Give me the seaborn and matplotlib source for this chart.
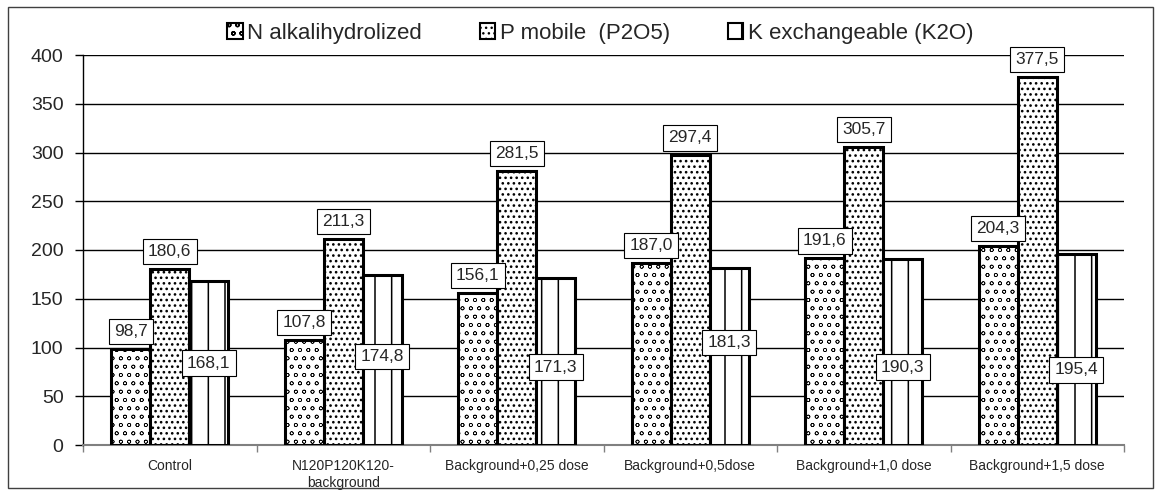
import numpy as np
import pandas as pd
import matplotlib
matplotlib.use("Agg")
import matplotlib.pyplot as plt
import matplotlib.patches as mpatches
import seaborn as sns

# ---- data ----
categories = ["Control", "N120P120K120-\nbackground", "Background+0,25 dose",
              "Background+0,5dose", "Background+1,0 dose", "Background+1,5 dose"]
series_names = ["N alkalihydrolized", "P mobile  (P2O5)", "K exchangeable (K2O)"]
n_values = [98.7, 107.8, 156.1, 187.0, 191.6, 204.3]
p_values = [180.6, 211.3, 281.5, 297.4, 305.7, 377.5]
k_values = [168.1, 174.8, 171.3, 181.3, 190.3, 195.4]
y_ticks = [0, 50, 100, 150, 200, 250, 300, 350, 400]

# layout: vertical centre of the K value labels (placed inside the bars)
k_label_y = [84, 91, 80, 105, 80, 77]

sns.set_theme(style="white")
plt.rcParams['font.family'] = ['Liberation Sans', 'DejaVu Sans']
plt.rcParams['hatch.linewidth'] = 1.0

df = pd.DataFrame({
    "category": np.repeat(categories, 3),
    "series": series_names * len(categories),
    "value": [v for trio in zip(n_values, p_values, k_values) for v in trio],
})

fig = plt.figure(figsize=(11.61, 4.95), dpi=100)
ax = fig.add_axes([83/1161, 1-445/495, (1124-83)/1161, (445-55)/495])

sns.barplot(data=df, x="category", y="value", hue="series", order=categories,
            hue_order=series_names, palette=["white"]*3, width=0.675, gap=0,
            edgecolor="black", linewidth=2.2, legend=False, ax=ax, zorder=3)

hatches = ["oo", "...", "|"]
hatch_lw = [0.45, 1.1, 1.1]
for cont, h, hl in zip(ax.containers, hatches, hatch_lw):
    for bar in cont:
        bar.set_hatch(h)
        bar.set_facecolor("white")
        bar.set_edgecolor("black")
        try:
            bar.set_hatch_linewidth(hl)
        except AttributeError:
            pass

ax.set_xlim(-0.5, len(categories)-0.5)
ax.set_ylim(0, 400)
ax.set_yticks(y_ticks)
ax.set_yticklabels([str(t) for t in y_ticks], fontsize=14)
ax.set_xticks(range(len(categories)))
ax.set_xticklabels(categories, fontsize=10, linespacing=1.3)
ax.tick_params(axis='x', length=0, pad=10)
ax.set_xticks(np.arange(-0.5, len(categories), 1), minor=True)
ax.tick_params(axis='x', which='minor', length=5, color='#808080', width=1, direction='out', bottom=True)
ax.tick_params(axis='y', length=6, color='black', width=1, direction='out', left=True, pad=8)
ax.set_xlabel("")
ax.set_ylabel("")
ax.grid(False)
for t in y_ticks[1:]:
    ax.axhline(t, color="black", linewidth=1, zorder=1)
for s in ["top", "right"]:
    ax.spines[s].set_visible(False)
ax.spines["left"].set_color("black")
ax.spines["left"].set_linewidth(1)
ax.spines["bottom"].set_color("#808080")
ax.spines["bottom"].set_linewidth(1.5)

box = dict(boxstyle="square,pad=0.3", facecolor="white", edgecolor="black", linewidth=0.8)
fmt = lambda v: f"{v:.1f}".replace(".", ",")
for si, cont in enumerate(ax.containers):
    for ci, bar in enumerate(cont):
        v = bar.get_height()
        xc = bar.get_x() + bar.get_width()/2
        if si < 2:
            ax.annotate(fmt(v), (xc, v), xytext=(0, 7), textcoords="offset points",
                        ha="center", va="bottom", fontsize=12.5, bbox=box, zorder=5)
        else:
            ax.text(xc, k_label_y[ci], fmt(v), ha="center", va="center",
                    fontsize=12.5, bbox=box, zorder=5)

handles = []
for h, hl in zip(hatches, hatch_lw):
    p = mpatches.Patch(facecolor="white", edgecolor="black", hatch=h, linewidth=1.5)
    try:
        p.set_hatch_linewidth(hl)
    except AttributeError:
        pass
    handles.append(p)
fig.legend(handles, series_names, loc="center", bbox_to_anchor=(0.517, 0.933), ncol=3,
           frameon=False, fontsize=16, handlelength=0.7, handleheight=0.7,
           handletextpad=0.2, columnspacing=2.6)

fig.patches.append(mpatches.Rectangle((8/1161, 1-488/495), (1153-8)/1161, (488-7)/495,
                                      transform=fig.transFigure, fill=False,
                                      edgecolor="#404040", linewidth=1))

fig.savefig("out.png", dpi=100)
